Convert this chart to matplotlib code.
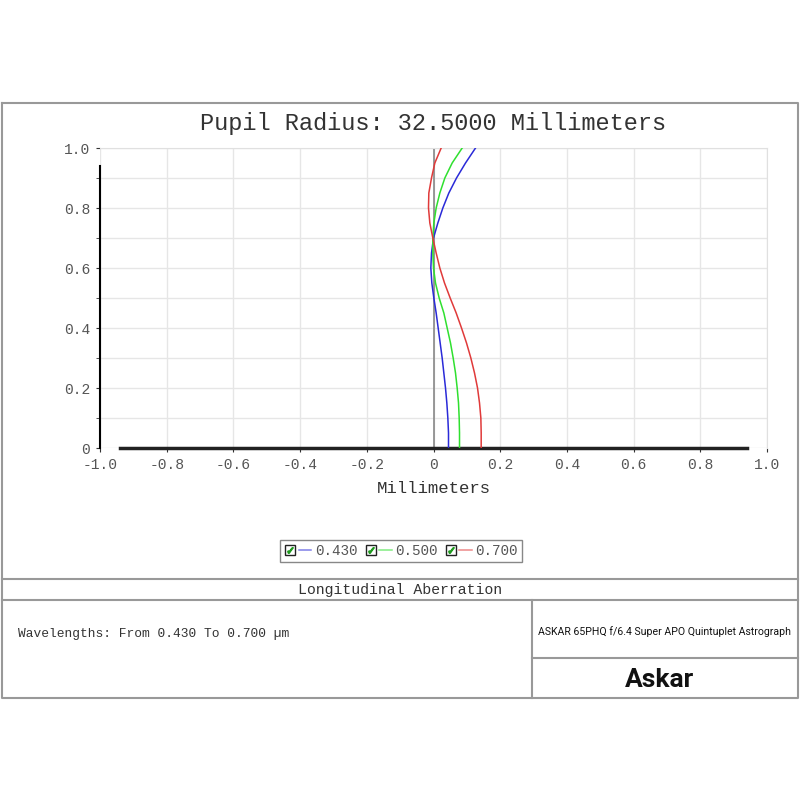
import matplotlib
matplotlib.use('Agg')
import matplotlib.pyplot as plt
import numpy as np
from matplotlib.lines import Line2D
from matplotlib.legend_handler import HandlerTuple

# pupil height (normalized) and longitudinal aberration (mm) per wavelength
pupil = [0, .05, .1, .15, .2, .25, .3, .35, .4, .45, .5,
         .55, .6, .65, .7, .75, .8, .85, .9, .95, 1.0]
ab_430 = [0.045, 0.045, 0.043, 0.040, 0.036, 0.031, 0.026, 0.020, 0.014, 0.008, 0.001,
          -0.005, -0.008, -0.006, 0.000, 0.013, 0.028, 0.046, 0.069, 0.096, 0.126]
ab_500 = [0.078, 0.078, 0.077, 0.075, 0.071, 0.066, 0.059, 0.051, 0.041, 0.031, 0.017,
          0.006, 0.000, -0.002, -0.002, 0.001, 0.008, 0.019, 0.034, 0.056, 0.086]
ab_700 = [0.143, 0.143, 0.142, 0.138, 0.132, 0.123, 0.112, 0.099, 0.084, 0.068, 0.050,
          0.033, 0.019, 0.008, -0.002, -0.011, -0.015, -0.014, -0.006, 0.004, 0.023]
wave_labels = ['0.430', '0.500', '0.700']
colors = ['#2a2ad8', '#2fe02f', '#e03a3a']

xticks = [-1.0, -0.8, -0.6, -0.4, -0.2, 0, 0.2, 0.4, 0.6, 0.8, 1.0]
xticklabels = ['-1.0', '-0.8', '-0.6', '-0.4', '-0.2', '0', '0.2', '0.4', '0.6', '0.8', '1.0']
yticks = [0, 0.2, 0.4, 0.6, 0.8, 1.0]
yticklabels = ['0', '0.2', '0.4', '0.6', '0.8', '1.0']

mono = 'Liberation Mono'

fig = plt.figure(figsize=(8, 8), dpi=100)
ax = fig.add_axes([0.125, 0.44, 0.83375, 0.375])

ax.set_xlim(-1, 1)
ax.set_ylim(0, 1)
ax.set_xticks(xticks)
ax.set_xticklabels(xticklabels, fontfamily=mono, fontsize=10.5, color='#555555')
ax.set_yticks(yticks)
ax.set_yticklabels(yticklabels, fontfamily=mono, fontsize=10.5, color='#555555')
ax.set_yticks(np.arange(0.1, 1.0, 0.2), minor=True)
ax.grid(True, which='both', axis='y', color='#e6e6e6', lw=1)
ax.grid(True, which='major', axis='x', color='#e6e6e6', lw=1)
ax.set_axisbelow(True)
ax.tick_params(axis='both', which='both', direction='out', length=3, color='#333333', pad=4)

for s in ['top', 'right']:
    ax.spines[s].set_color('#e0e0e0')
ax.spines['left'].set_color('black')
ax.spines['left'].set_linewidth(1.5)
ax.spines['left'].set_bounds(0, 0.94)
ax.spines['bottom'].set_color('#222222')
ax.spines['bottom'].set_linewidth(2.5)
ax.spines['bottom'].set_bounds(-0.94, 0.94)

ax.axvline(0, color='#888888', lw=1.2, zorder=2)

series = [ab_430, ab_500, ab_700]
for vals, c in zip(series, colors):
    ax.plot(vals, pupil, color=c, lw=1.1, zorder=3)

ax.set_title('Pupil Radius: 32.5000 Millimeters', fontfamily=mono, fontsize=17,
             color='#333333', pad=13)
ax.set_xlabel('Millimeters', fontfamily=mono, fontsize=12.5, color='#333333', labelpad=7)

# legend with checkbox-like markers
handles = []
hmap = {tuple: HandlerTuple(ndivide=None, pad=0.15)}
for c in colors:
    box = Line2D([], [], marker='s', markersize=7, linestyle='none',
                 markerfacecolor='white', markeredgecolor='#222222', markeredgewidth=1)
    chk = Line2D([], [], marker=r'$\checkmark$', markersize=4, linestyle='none',
                 color='#1f9a1f')
    inner = (box, chk)
    hmap[inner] = HandlerTuple(ndivide=1)
    ln = Line2D([], [], color=c, lw=1.1, alpha=0.6)
    handles.append((inner, ln))
fig.legend(handles, wave_labels, loc='center', bbox_to_anchor=(0.50125, 0.31125),
           ncol=3, numpoints=1, handler_map=hmap,
           prop={'family': mono, 'size': 10.3}, labelcolor='#555555',
           frameon=True, fancybox=False, edgecolor='#888888', framealpha=1,
           handlelength=1.9, handletextpad=0.25, columnspacing=0.5,
           borderpad=0.3)

# bottom block frames
gc = '#999999'
fl = dict(color=gc, lw=1.5, transform=fig.transFigure)
fig.add_artist(Line2D([0.0025, 0.9975, 0.9975, 0.0025, 0.0025],
                      [0.871, 0.871, 0.1275, 0.1275, 0.871], **fl))
fig.add_artist(Line2D([0.0025, 0.9975], [0.27625, 0.27625], **fl))
fig.add_artist(Line2D([0.0025, 0.9975], [0.25, 0.25], **fl))
fig.add_artist(Line2D([0.665, 0.665], [0.25, 0.1275], **fl))
fig.add_artist(Line2D([0.665, 0.9975], [0.1775, 0.1775], **fl))

fig.text(0.5, 0.2625, 'Longitudinal Aberration', ha='center', va='center',
         fontfamily=mono, fontsize=10.7, color='#333333')
fig.text(0.0225, 0.2075, 'Wavelengths: From 0.430 To 0.700 µm', ha='left', va='center',
         fontfamily=mono, fontsize=9.3, color='#333333')
fig.text(0.83, 0.21, 'ASKAR 65PHQ f/6.4 Super APO Quintuplet Astrograph', ha='center',
         va='center', fontfamily='Roboto', fontsize=7.6, color='#111111')
fig.text(0.825, 0.15, 'Askar', ha='center', va='center', fontfamily='Roboto',
         fontweight='bold', fontsize=19, color='#111111')

fig.savefig('out.png', dpi=100)
